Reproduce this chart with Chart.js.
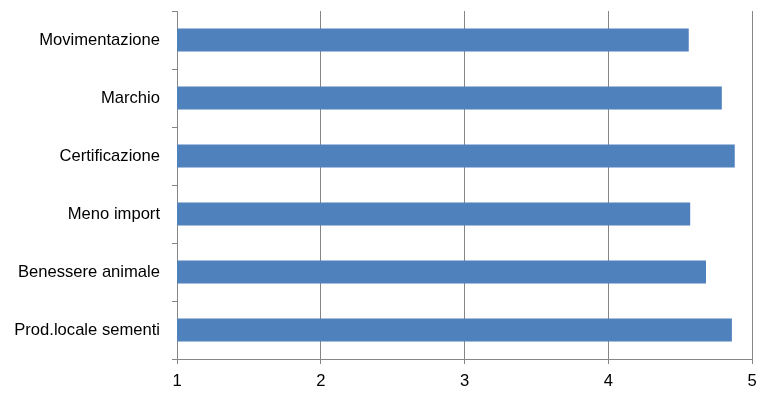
<!DOCTYPE html>
<html>
<head>
<meta charset="utf-8">
<script src="https://cdn.jsdelivr.net/npm/chart.js@4/dist/chart.umd.min.js"></script>
<style>
  html, body { margin: 0; padding: 0; background: #fff; }
  #wrap { width: 769px; height: 394px; position: relative; }
</style>
</head>
<body>
<div id="wrap"><canvas id="barChart"></canvas></div>
<script>
// dati del grafico
var categorie = ['Movimentazione', 'Marchio', 'Certificazione', 'Meno import', 'Benessere animale', 'Prod.locale sementi'];
var valori = [4.56, 4.79, 4.88, 4.57, 4.68, 4.86];
var tickX = [1, 2, 3, 4, 5];

var grigio = '#868686';

var ctx = document.getElementById('barChart').getContext('2d');
new Chart(ctx, {
    type: 'bar',
    data: {
        labels: categorie,
        datasets: [{
            data: valori,
            backgroundColor: '#4F81BD',
            borderWidth: 0,
            barPercentage: 0.4,
            categoryPercentage: 1.0
        }]
    },
    options: {
        indexAxis: 'y',
        responsive: true,
        maintainAspectRatio: false,
        animation: false,
        layout: { padding: { top: 11, right: 17, left: 0, bottom: 0 } },
        plugins: {
            legend: { display: false },
            tooltip: { enabled: false }
        },
        scales: {
            x: {
                min: tickX[0],
                max: tickX[tickX.length - 1],
                afterBuildTicks: function(scale) {
                    scale.ticks = tickX.map(function(v) { return { value: v }; });
                },
                afterFit: function(scale) {
                    scale.height = 35;
                    scale.paddingLeft = 0;
                    scale.paddingRight = 0;
                },
                grid: { color: grigio, tickLength: 5, lineWidth: 1 },
                border: { display: true, color: grigio },
                ticks: {
                    color: '#000',
                    padding: 7,
                    font: { family: 'Liberation Sans', size: 16.6 }
                }
            },
            y: {
                afterFit: function(scale) {
                    scale.width = 177;
                    scale.paddingTop = 0;
                    scale.paddingBottom = 0;
                },
                grid: { drawOnChartArea: false, color: grigio, tickLength: 5, offset: true },
                border: { display: true, color: grigio },
                ticks: {
                    color: '#000',
                    padding: 12,
                    font: { family: 'Liberation Sans', size: 16.6 }
                }
            }
        }
    }
});
</script>
</body>
</html>
